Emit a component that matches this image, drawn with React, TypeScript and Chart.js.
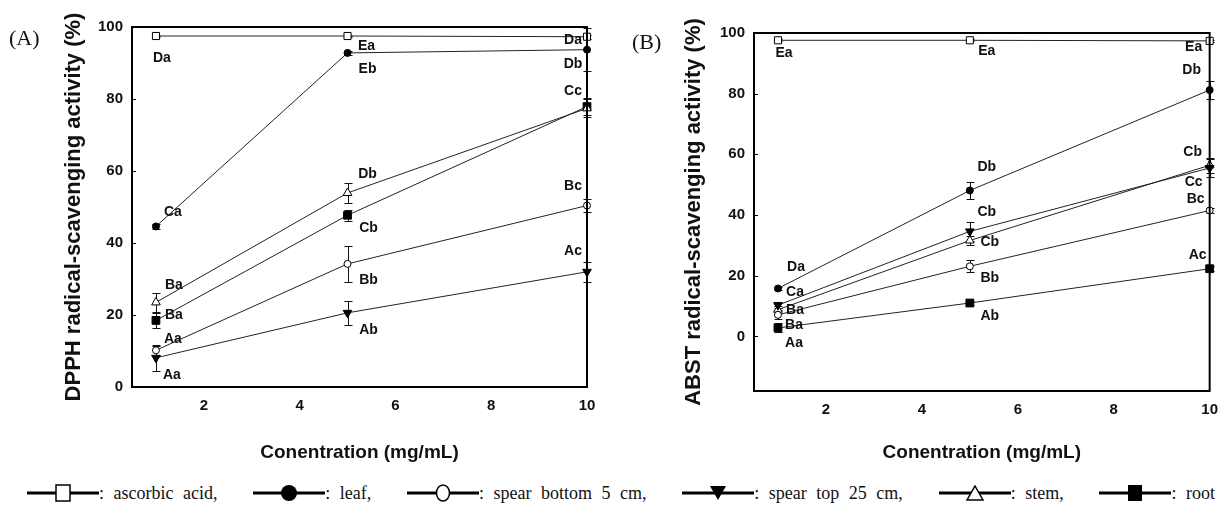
import React, { useEffect, useRef } from 'react';
import { Chart, registerables } from 'chart.js';

Chart.register(...registerables);

// ---------- data ----------
const concentrations = [1, 5, 10];
const xTickValues = [2, 4, 6, 8, 10];
const yTickValues = [0, 20, 40, 60, 80, 100];

const seriesNames = ['ascorbic acid', 'leaf', 'spear bottom 5 cm', 'spear top 25 cm', 'stem', 'root'];

// Panel A: DPPH radical-scavenging activity (%)
const dpphAscorbic = [97.5, 97.5, 97.3];
const dpphLeaf = [44.6, 92.8, 93.7];
const dpphSpearBottom = [10.2, 34.2, 50.4];
const dpphSpearTop = [8.1, 20.6, 32.0];
const dpphStem = [23.5, 53.9, 77.4];
const dpphRoot = [18.5, 47.7, 77.9];

const dpphAscorbicErr = [0.3, 0.3, 0.5];
const dpphLeafErr = [0.6, 0.6, 6.0];
const dpphSpearBottomErr = [1.2, 5.0, 1.8];
const dpphSpearTopErr = [3.7, 3.3, 2.7];
const dpphStemErr = [2.6, 2.7, 2.5];
const dpphRootErr = [2.0, 1.6, 2.3];

const dpphAscorbicLetters = ['Da', 'Ea', 'Da'];
const dpphLeafLetters = ['Ca', 'Eb', 'Db'];
const dpphSpearBottomLetters = ['Aa', 'Bb', 'Bc'];
const dpphSpearTopLetters = ['Aa', 'Ab', 'Ac'];
const dpphStemLetters = ['Ba', 'Db', ''];
const dpphRootLetters = ['Ba', 'Cb', 'Cc'];

// Panel B: ABST radical-scavenging activity (%)
const abstAscorbic = [97.6, 97.6, 97.4];
const abstLeaf = [15.8, 48.1, 81.2];
const abstSpearBottom = [7.1, 23.1, 41.5];
const abstSpearTop = [10.3, 34.6, 55.5];
const abstStem = [8.8, 31.6, 56.4];
const abstRoot = [2.8, 11.0, 22.3];

const abstAscorbicErr = [0.3, 0.3, 0.3];
const abstLeafErr = [0.5, 2.8, 3.0];
const abstSpearBottomErr = [1.5, 2.0, 0.8];
const abstSpearTopErr = [1.0, 3.0, 3.0];
const abstStemErr = [1.2, 1.5, 2.5];
const abstRootErr = [1.5, 0.6, 0.8];

const abstAscorbicLetters = ['Ea', 'Ea', 'Ea'];
const abstLeafLetters = ['Da', 'Db', 'Db'];
const abstSpearBottomLetters = ['Ba', 'Bb', 'Bc'];
const abstSpearTopLetters = ['Ca', 'Cb', 'Cc'];
const abstStemLetters = ['Ba', 'Cb', 'Cb'];
const abstRootLetters = ['Aa', 'Ab', 'Ac'];

// ---------- label placement (pixel offsets from each point) ----------
const dpphLetterOffsets = [
  [[6, 22], [19, 10], [-14, 3]],
  [[17, -14], [20, 16], [-14, 14]],
  [[17, -11], [21, 16], [-14, -19]],
  [[16, 17], [21, 17], [-14, -21]],
  [[18, -17], [20, -19], [0, 0]],
  [[18, -5], [21, 13], [-14, -15]],
];
const abstLetterOffsets = [
  [[6, 13], [17, 11], [-16, 6]],
  [[18, -21], [17, -23], [-18, -20]],
  [[16, 10], [20, 12], [-14, -11]],
  [[17, -13], [17, -19], [-16, 14]],
  [[17, 0], [20, 2], [-17, -13]],
  [[16, 15], [20, 13], [-12, -14]],
];

// ---------- styles ----------
const SANS = '"Liberation Sans", Arial, sans-serif';
const SERIF = '"Liberation Serif", "Times New Roman", serif';

const markerStyles = [
  { pointStyle: 'rect', radius: 5, fill: '#ffffff', rotation: 0 },
  { pointStyle: 'circle', radius: 3.5, fill: '#000000', rotation: 0 },
  { pointStyle: 'circle', radius: 3.5, fill: '#ffffff', rotation: 0 },
  { pointStyle: 'triangle', radius: 5, fill: '#000000', rotation: 180 },
  { pointStyle: 'triangle', radius: 5, fill: '#ffffff', rotation: 0 },
  { pointStyle: 'rect', radius: 5.5, fill: '#000000', rotation: 0 },
];

type PanelConfig = {
  values: number[][];
  errors: number[][];
  letters: string[][];
  offsets: number[][][];
  yMin: number;
  yTitle: string;
  left: number;
  width: number;
  height: number;
  axisWidth: number;
  padTop: number;
  padRight: number;
  xAxisHeight: number;
  yTitlePad: number;
};

const panelA: PanelConfig = {
  values: [dpphAscorbic, dpphLeaf, dpphSpearBottom, dpphSpearTop, dpphStem, dpphRoot],
  errors: [dpphAscorbicErr, dpphLeafErr, dpphSpearBottomErr, dpphSpearTopErr, dpphStemErr, dpphRootErr],
  letters: [dpphAscorbicLetters, dpphLeafLetters, dpphSpearBottomLetters, dpphSpearTopLetters, dpphStemLetters, dpphRootLetters],
  offsets: dpphLetterOffsets,
  yMin: 0,
  yTitle: 'DPPH radical-scavenging activity (%)',
  left: 0,
  width: 610,
  height: 470,
  axisWidth: 132,
  padTop: 27,
  padRight: 23,
  xAxisHeight: 83,
  yTitlePad: 61,
};

const panelB: PanelConfig = {
  values: [abstAscorbic, abstLeaf, abstSpearBottom, abstSpearTop, abstStem, abstRoot],
  errors: [abstAscorbicErr, abstLeafErr, abstSpearBottomErr, abstSpearTopErr, abstStemErr, abstRootErr],
  letters: [abstAscorbicLetters, abstLeafLetters, abstSpearBottomLetters, abstSpearTopLetters, abstStemLetters, abstRootLetters],
  offsets: abstLetterOffsets,
  yMin: -18,
  yTitle: 'ABST radical-scavenging activity (%)',
  left: 615,
  width: 613,
  height: 470,
  axisWidth: 139,
  padTop: 33,
  padRight: 12,
  xAxisHeight: 79,
  yTitlePad: 66,
};

function makeAnnotatePlugin(cfg: PanelConfig) {
  return {
    id: 'annotate',
    beforeDatasetsDraw(chart: any) {
      const { ctx } = chart;
      const x = chart.scales.x;
      const y = chart.scales.y;
      ctx.save();
      ctx.strokeStyle = '#111';
      ctx.lineWidth = 1;
      cfg.errors.forEach((errs, s) => {
        errs.forEach((e, i) => {
          const v = cfg.values[s][i];
          const px = Math.round(x.getPixelForValue(concentrations[i])) + 0.5;
          const y1 = Math.round(y.getPixelForValue(v - e)) + 0.5;
          const y2 = Math.round(y.getPixelForValue(v + e)) + 0.5;
          ctx.beginPath();
          ctx.moveTo(px, y1);
          ctx.lineTo(px, y2);
          ctx.moveTo(px - 4, y1);
          ctx.lineTo(px + 4, y1);
          ctx.moveTo(px - 4, y2);
          ctx.lineTo(px + 4, y2);
          ctx.stroke();
        });
      });
      ctx.restore();
    },
    afterDatasetsDraw(chart: any) {
      const { ctx, chartArea: a } = chart;
      const x = chart.scales.x;
      const y = chart.scales.y;
      ctx.save();
      ctx.strokeStyle = '#000';
      ctx.lineWidth = 2;
      ctx.strokeRect(a.left, a.top, a.right - a.left, a.bottom - a.top);
      ctx.lineWidth = 1;
      y.ticks.forEach((t: any) => {
        const py = Math.round(y.getPixelForValue(t.value)) + 0.5;
        ctx.beginPath();
        ctx.moveTo(a.left, py);
        ctx.lineTo(a.left + 4, py);
        ctx.stroke();
      });
      ctx.font = `bold 14px ${SANS}`;
      ctx.fillStyle = '#111';
      ctx.textAlign = 'center';
      ctx.textBaseline = 'middle';
      cfg.letters.forEach((row, s) => {
        row.forEach((txt, i) => {
          if (!txt) return;
          const [dx, dy] = cfg.offsets[s][i];
          ctx.fillText(
            txt,
            x.getPixelForValue(concentrations[i]) + dx,
            y.getPixelForValue(cfg.values[s][i]) + dy
          );
        });
      });
      ctx.restore();
    },
  };
}

function PanelChart({ cfg }: { cfg: PanelConfig }) {
  const ref = useRef<HTMLCanvasElement | null>(null);
  useEffect(() => {
    if (!ref.current) return;
    const datasets = cfg.values.map((vals, s) => ({
      label: seriesNames[s],
      data: vals.map((v, i) => ({ x: concentrations[i], y: v })),
      borderColor: '#222',
      borderWidth: 1,
      pointStyle: markerStyles[s].pointStyle,
      pointRadius: markerStyles[s].radius,
      pointRotation: markerStyles[s].rotation,
      pointBackgroundColor: markerStyles[s].fill,
      pointBorderColor: '#000',
      pointBorderWidth: 1,
      fill: false,
      tension: 0,
      clip: false as any,
    }));
    const chart = new Chart(ref.current, {
      type: 'line',
      data: { datasets },
      options: {
        animation: false,
        responsive: false,
        devicePixelRatio: 1,
        layout: { padding: { left: 0, top: cfg.padTop, right: cfg.padRight, bottom: 0 } },
        plugins: { legend: { display: false }, tooltip: { enabled: false } },
        scales: {
          x: {
            type: 'linear',
            min: 0.5,
            max: 10,
            afterBuildTicks: (s: any) => {
              s.ticks = xTickValues.map((v) => ({ value: v }));
            },
            afterFit: (s: any) => {
              s.height = cfg.xAxisHeight;
            },
            grid: { display: false, drawTicks: false },
            border: { display: false },
            ticks: {
              font: { family: SANS, size: 15, weight: 'bold' },
              color: '#111',
              padding: 10,
              maxRotation: 0,
            },
            title: {
              display: true,
              text: 'Conentration (mg/mL)',
              font: { family: SANS, size: 19, weight: 'bold' },
              color: '#111',
              padding: { top: 0, bottom: 6 },
            },
          },
          y: {
            type: 'linear',
            min: cfg.yMin,
            max: 100,
            afterBuildTicks: (s: any) => {
              s.ticks = yTickValues.map((v) => ({ value: v }));
            },
            afterFit: (s: any) => {
              s.width = cfg.axisWidth;
            },
            grid: { display: false, drawTicks: false },
            border: { display: false },
            ticks: {
              font: { family: SANS, size: 15, weight: 'bold' },
              color: '#111',
              padding: 9,
            },
            title: {
              display: true,
              text: cfg.yTitle,
              font: { family: SANS, size: 22, weight: 'bold' },
              color: '#111',
              padding: { top: cfg.yTitlePad, bottom: 0 },
            },
          },
        },
      },
      plugins: [makeAnnotatePlugin(cfg)],
    } as any);
    return () => chart.destroy();
  }, [cfg]);
  return (
    <canvas
      ref={ref}
      width={cfg.width}
      height={cfg.height}
      style={{ position: 'absolute', left: cfg.left, top: 0, width: cfg.width, height: cfg.height }}
    />
  );
}

function LegendIcon({ kind }: { kind: number }) {
  const w = 72;
  const c = 36;
  let marker: React.ReactNode = null;
  if (kind === 0) marker = <rect x={c - 7} y={2} width={14} height={16} fill="#fff" stroke="#000" strokeWidth={1.5} />;
  if (kind === 1) marker = <circle cx={c} cy={10} r={8} fill="#000" />;
  if (kind === 2) marker = <ellipse cx={c} cy={10} rx={6.5} ry={8} fill="#fff" stroke="#000" strokeWidth={1.5} />;
  if (kind === 3) marker = <polygon points={`${c - 8},3 ${c + 8},3 ${c},17`} fill="#000" />;
  if (kind === 4) marker = <polygon points={`${c},3 ${c + 8},17 ${c - 8},17`} fill="#fff" stroke="#000" strokeWidth={1.5} />;
  if (kind === 5) marker = <rect x={c - 7} y={2} width={14} height={16} fill="#000" />;
  return (
    <svg width={w} height={20} style={{ display: 'block' }}>
      <line x1={0} y1={10} x2={w} y2={10} stroke="#000" strokeWidth={3} />
      {marker}
    </svg>
  );
}

export default function App() {
  return (
    <div style={{ position: 'fixed', left: 0, top: 0, width: 1228, height: 518, background: '#fff', overflow: 'hidden' }}>
      <PanelChart cfg={panelA} />
      <PanelChart cfg={panelB} />
      <div style={{ position: 'absolute', left: 9, top: 27, font: `22px ${SERIF}`, lineHeight: '22px', color: '#111' }}>(A)</div>
      <div style={{ position: 'absolute', left: 632, top: 31, font: `22px ${SERIF}`, lineHeight: '22px', color: '#111' }}>(B)</div>
      <div
        style={{
          position: 'absolute',
          left: 27,
          top: 481,
          width: 1188,
          height: 24,
          display: 'flex',
          justifyContent: 'space-between',
          alignItems: 'center',
          font: `18px ${SERIF}`,
          wordSpacing: '5px',
          color: '#111',
          whiteSpace: 'pre',
        }}
      >
        {seriesNames.map((name, i) => (
          <div key={name} style={{ display: 'flex', alignItems: 'center' }}>
            <LegendIcon kind={i} />
            <span>{`: ${name}${i < seriesNames.length - 1 ? ',' : ''}`}</span>
          </div>
        ))}
      </div>
    </div>
  );
}
